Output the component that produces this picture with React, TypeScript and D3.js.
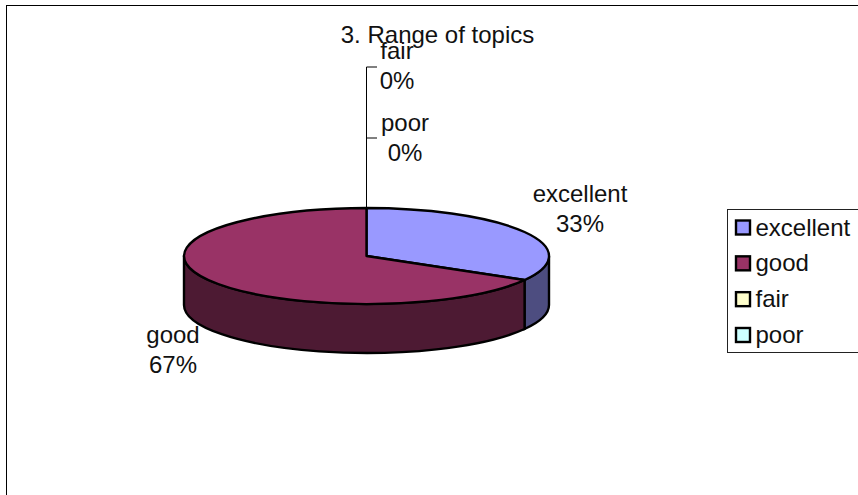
import React from "react";
import * as d3 from "d3";

const categories = ["excellent", "good", "fair", "poor"];
const values = [33.33, 66.67, 0, 0];
const topColors = ["#9999ff", "#993366", "#ffffcc", "#ccffff"];
const sideColors = ["#4d4d80", "#4d1a33", "#808066", "#668080"];
const title = "3. Range of topics";

const FONT = "'Liberation Sans', Arial, sans-serif";
const FS = 24;
const W = 858, H = 495;
const cx = 366.5, cy = 256, rx = 182.5, ry = 48, depth = 49;

const pie = d3.pie<number>().sort(null).startAngle(0).endAngle(2 * Math.PI);
const arcs = pie(values);

const px = (a: number) => cx + rx * Math.sin(a);
const py = (a: number) => cy - ry * Math.cos(a);

function topPath(a0: number, a1: number) {
  const large = a1 - a0 > Math.PI ? 1 : 0;
  return `M${cx},${cy}L${px(a0)},${py(a0)}A${rx},${ry} 0 ${large} 1 ${px(a1)},${py(a1)}Z`;
}
function sidePath(a0: number, a1: number) {
  const s = Math.max(a0, Math.PI / 2), e = Math.min(a1, 1.5 * Math.PI);
  if (e <= s) return null;
  return `M${px(s)},${py(s)}A${rx},${ry} 0 0 1 ${px(e)},${py(e)}L${px(e)},${py(e) + depth}A${rx},${ry} 0 0 0 ${px(s)},${py(s) + depth}Z`;
}

const pct = d3.format(".0%");
const labelPos: Record<string, { x: number; y: number; vy: number }> = {
  excellent: { x: 580, y: 202, vy: 232 },
  good: { x: 173, y: 343, vy: 373 },
  fair: { x: 397, y: 59, vy: 89 },
  poor: { x: 405, y: 131, vy: 161 },
};

const legendY = d3.scalePoint<string>().domain(categories).range([227.5, 335]);

export default function App() {
  return (
    <svg width={W} height={H} style={{ position: "absolute", left: 0, top: 0, background: "#fff" }}>
      <rect x={6.5} y={5.5} width={W + 20} height={H + 20} fill="#fff" stroke="#000" strokeWidth={1} />
      <text x={437.5} y={43} textAnchor="middle" fontFamily={FONT} fontSize={FS} fill="#111">{title}</text>

      <path d={`M377,67H366.5V208M366.5,138H377`} fill="none" stroke="#000" strokeWidth={1} />

      {arcs.map((a, i) => {
        const d = sidePath(a.startAngle, a.endAngle);
        return d ? <path key={`s${i}`} d={d} fill={sideColors[i]} stroke="#000" strokeWidth={2.4} /> : null;
      })}
      {arcs.map((a, i) =>
        a.endAngle > a.startAngle ? (
          <path key={`t${i}`} d={topPath(a.startAngle, a.endAngle)} fill={topColors[i]} stroke="#000" strokeWidth={2.4} strokeLinejoin="round" />
        ) : null
      )}

      {categories.map((c, i) => {
        const p = labelPos[c];
        return (
          <g key={c} fontFamily={FONT} fontSize={FS} fill="#111" textAnchor="middle">
            <text x={p.x} y={p.y}>{c}</text>
            <text x={p.x} y={p.vy}>{pct(values[i] / 100)}</text>
          </g>
        );
      })}

      <rect x={727.5} y={209.5} width={140} height={143} fill="#fff" stroke="#222" strokeWidth={1} />
      {categories.map((c, i) => {
        const y = legendY(c)!;
        return (
          <g key={c}>
            <rect x={736} y={y - 7} width={14} height={14} fill={topColors[i]} stroke="#000" strokeWidth={2.4} />
            <text x={755.5} y={y + 8} fontFamily={FONT} fontSize={FS} fill="#111">{c}</text>
          </g>
        );
      })}
    </svg>
  );
}
